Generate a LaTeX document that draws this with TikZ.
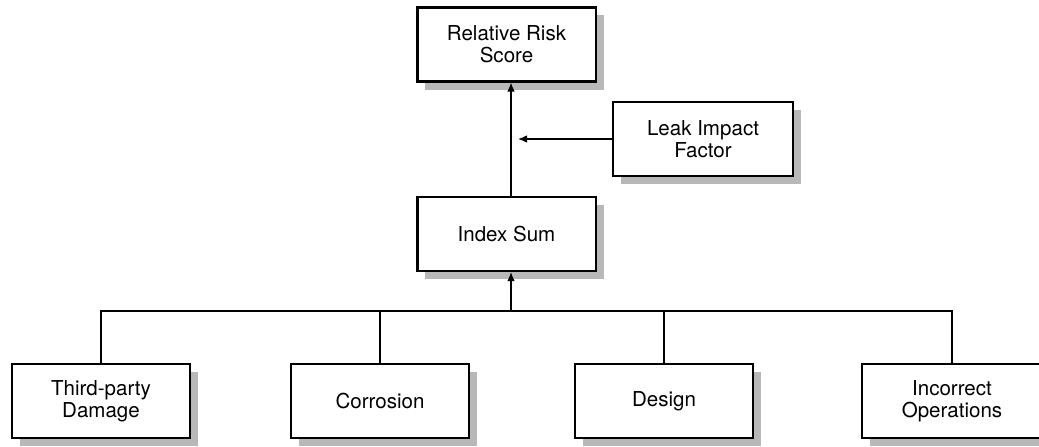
\documentclass[tikz,border=0pt]{standalone}
\usepackage{fontspec}
\setmainfont{TeX Gyre Heros}
\usetikzlibrary{arrows.meta,shadows}
\tikzset{
  block/.style={draw, line width=1.45pt, fill=white, align=center,
    minimum width=4.45cm, minimum height=1.85cm,
    font=\fontsize{14.6}{15.8}\selectfont,
    drop shadow={shadow xshift=0.2cm, shadow yshift=-0.2cm, fill=black!28, opacity=1}},
  link/.style={line width=1pt},
  feed/.style={line width=1pt, -{Latex[length=6.5pt,width=5.5pt]}}
}

\begin{document}
\begin{tikzpicture}[x=0.025cm, y=-0.025cm]
			%%%%% START %%%%%
			\useasboundingbox (0, 0) rectangle (1039, 447);
			
			\node[block] (risk) at (506.5, 44.5) {Relative Risk\\Score};
			\node[block, minimum width=4.5cm] (leak) at (703, 139) {Leak Impact\\Factor};
			\node[block] (index) at (506.5, 234) {Index Sum};
			
			\node[block] (third) at (101, 401) {Third-party\\Damage};
			\node[block] (corr) at (380, 401) {Corrosion};
			\node[block] (design) at (664, 401) {Design};
			\node[block, minimum width=4.5cm] (ops) at (952, 401) {Incorrect\\Operations};
			
			\coordinate (spine) at (511, 0);
			\coordinate (bar) at (0, 311);
			\coordinate (leaktip) at (518, 139);
			
			\draw[feed] (index.north -| spine) -- (risk.south -| spine);
			\draw[feed] (leak.west) -- (leaktip);
			\draw[feed] (bar -| spine) -- (index.south -| spine);
			
			\draw[link] (third.north) -- (third.north |- bar) -- (ops.north |- bar) -- (ops.north);
			\draw[link] (corr.north) -- (corr.north |- bar);
			\draw[link] (design.north) -- (design.north |- bar);
			
			%%%%% END %%%%%
		\end{tikzpicture}
\end{document}
